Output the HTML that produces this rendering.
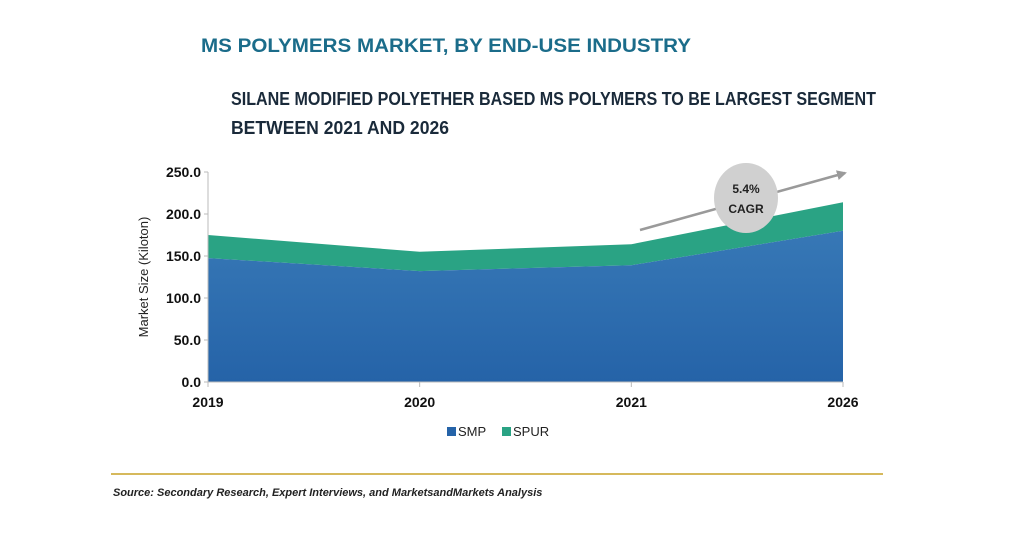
<!DOCTYPE html>
<html><head><meta charset="utf-8"><style>
html,body{margin:0;padding:0;background:#fff;}
svg{display:block;font-family:"Liberation Sans",Arial,sans-serif;}
</style></head><body>
<svg id="chart" width="1024" height="536" viewBox="0 0 1024 536">
<defs>
<linearGradient id="gSmp" x1="0" y1="0" x2="0" y2="1"><stop offset="0" stop-color="#3778b6"/><stop offset="1" stop-color="#2563a8"/></linearGradient>
<marker id="arr" markerWidth="10" markerHeight="10" refX="8" refY="5" orient="auto" markerUnits="userSpaceOnUse"><path d="M0,0 L10,5 L0,10 z" fill="#9a9a9a"/></marker>
</defs>
<text x="201" y="52" font-size="19" font-weight="bold" fill="#1b6c8a" textLength="490" lengthAdjust="spacingAndGlyphs">MS POLYMERS MARKET, BY END-USE INDUSTRY</text>
<text x="231" y="105" font-size="18" font-weight="bold" fill="#1a2a3a" textLength="645" lengthAdjust="spacingAndGlyphs">SILANE MODIFIED POLYETHER BASED MS POLYMERS TO BE LARGEST SEGMENT</text>
<text x="231" y="134" font-size="18" font-weight="bold" fill="#1a2a3a" textLength="218" lengthAdjust="spacingAndGlyphs">BETWEEN 2021 AND 2026</text>
<g id="plot"></g>
<text transform="translate(148,277) rotate(-90)" text-anchor="middle" font-size="13" fill="#222">Market Size (Kiloton)</text>
<rect x="447" y="427" width="9" height="9" fill="#2563a8"/>
<text x="458" y="436" font-size="13" fill="#222">SMP</text>
<rect x="502" y="427" width="9" height="9" fill="#2aa384"/>
<text x="513" y="436" font-size="13" fill="#222">SPUR</text>
<line x1="111" y1="474" x2="883" y2="474" stroke="#c9a227" stroke-width="1.5"/>
<text x="113" y="496" font-size="11" font-style="italic" font-weight="bold" fill="#222">Source: Secondary Research, Expert Interviews, and MarketsandMarkets Analysis</text>
</svg>
<script>
const categories = ["2019","2020","2021","2026"];
const smpValues = [147.5, 132, 139, 180];
const spurValues = [27.5, 23, 25, 34];
const yTicks = [0, 50, 100, 150, 200, 250];
const yTickLabels = ["0.0","50.0","100.0","150.0","200.0","250.0"];
const cagrLabel = ["5.4%","CAGR"];

const NS = "http://www.w3.org/2000/svg";
const plot = document.getElementById("plot");
const x0 = 208, x1 = 843, yBase = 382, yTop = 172, yMax = 250;
function xS(i){ return x0 + i*(x1-x0)/(categories.length-1); }
function yS(v){ return yBase - v*(yBase-yTop)/yMax; }
function mk(tag, attrs){ const e=document.createElementNS(NS,tag); for(const k in attrs) e.setAttribute(k,attrs[k]); plot.appendChild(e); return e; }

const topPts = categories.map((c,i)=>[xS(i), yS(smpValues[i]+spurValues[i])]);
const midPts = categories.map((c,i)=>[xS(i), yS(smpValues[i])]);
let pathD = "M"+topPts.map(p=>p.join(",")).join(" L")+" L"+midPts.slice().reverse().map(p=>p.join(",")).join(" L")+" Z";
const spur = mk("path",{d:pathD, fill:"#2aa384"});


pathD = "M"+midPts.map(p=>p.join(",")).join(" L")+" L"+xS(categories.length-1)+","+yBase+" L"+x0+","+yBase+" Z";
const smp = mk("path",{d:pathD, fill:"url(#gSmp)"});



const ya = mk("line",{x1:x0,y1:yTop,x2:x0,y2:yBase,stroke:"#bbb","stroke-width":1});


const xa = mk("line",{x1:x0,y1:yBase,x2:x1,y2:yBase,stroke:"#bbb","stroke-width":1});


yTicks.forEach((v,i)=>{
  const t = mk("text",{x:x0-7,y:yS(v)+5,"text-anchor":"end","font-size":14,"font-weight":"bold",fill:"#111"});
  t.textContent = yTickLabels[i];
  
  
  const tk = mk("line",{x1:x0-4,y1:yS(v),x2:x0,y2:yS(v),stroke:"#bbb"});
  
  
});
categories.forEach((c,i)=>{
  const t = mk("text",{x:xS(i),y:yBase+25,"text-anchor":"middle","font-size":14,"font-weight":"bold",fill:"#111"});
  t.textContent = c;
  
  
  const tk = mk("line",{x1:xS(i),y1:yBase,x2:xS(i),y2:yBase+5,stroke:"#bbb"});
  
  
});

const ar = mk("line",{x1:640,y1:230,x2:845,y2:173,stroke:"#9a9a9a","stroke-width":2.5,"marker-end":"url(#arr)"});


const el = mk("ellipse",{cx:746,cy:198,rx:32,ry:35,fill:"#d0d0d0"});


cagrLabel.forEach((s,i)=>{
  const t = mk("text",{x:746,y:193+i*20,"text-anchor":"middle","font-size":12,"font-weight":"bold",fill:"#222"});
  t.textContent = s;
  
  
});
</script>
</body></html>
